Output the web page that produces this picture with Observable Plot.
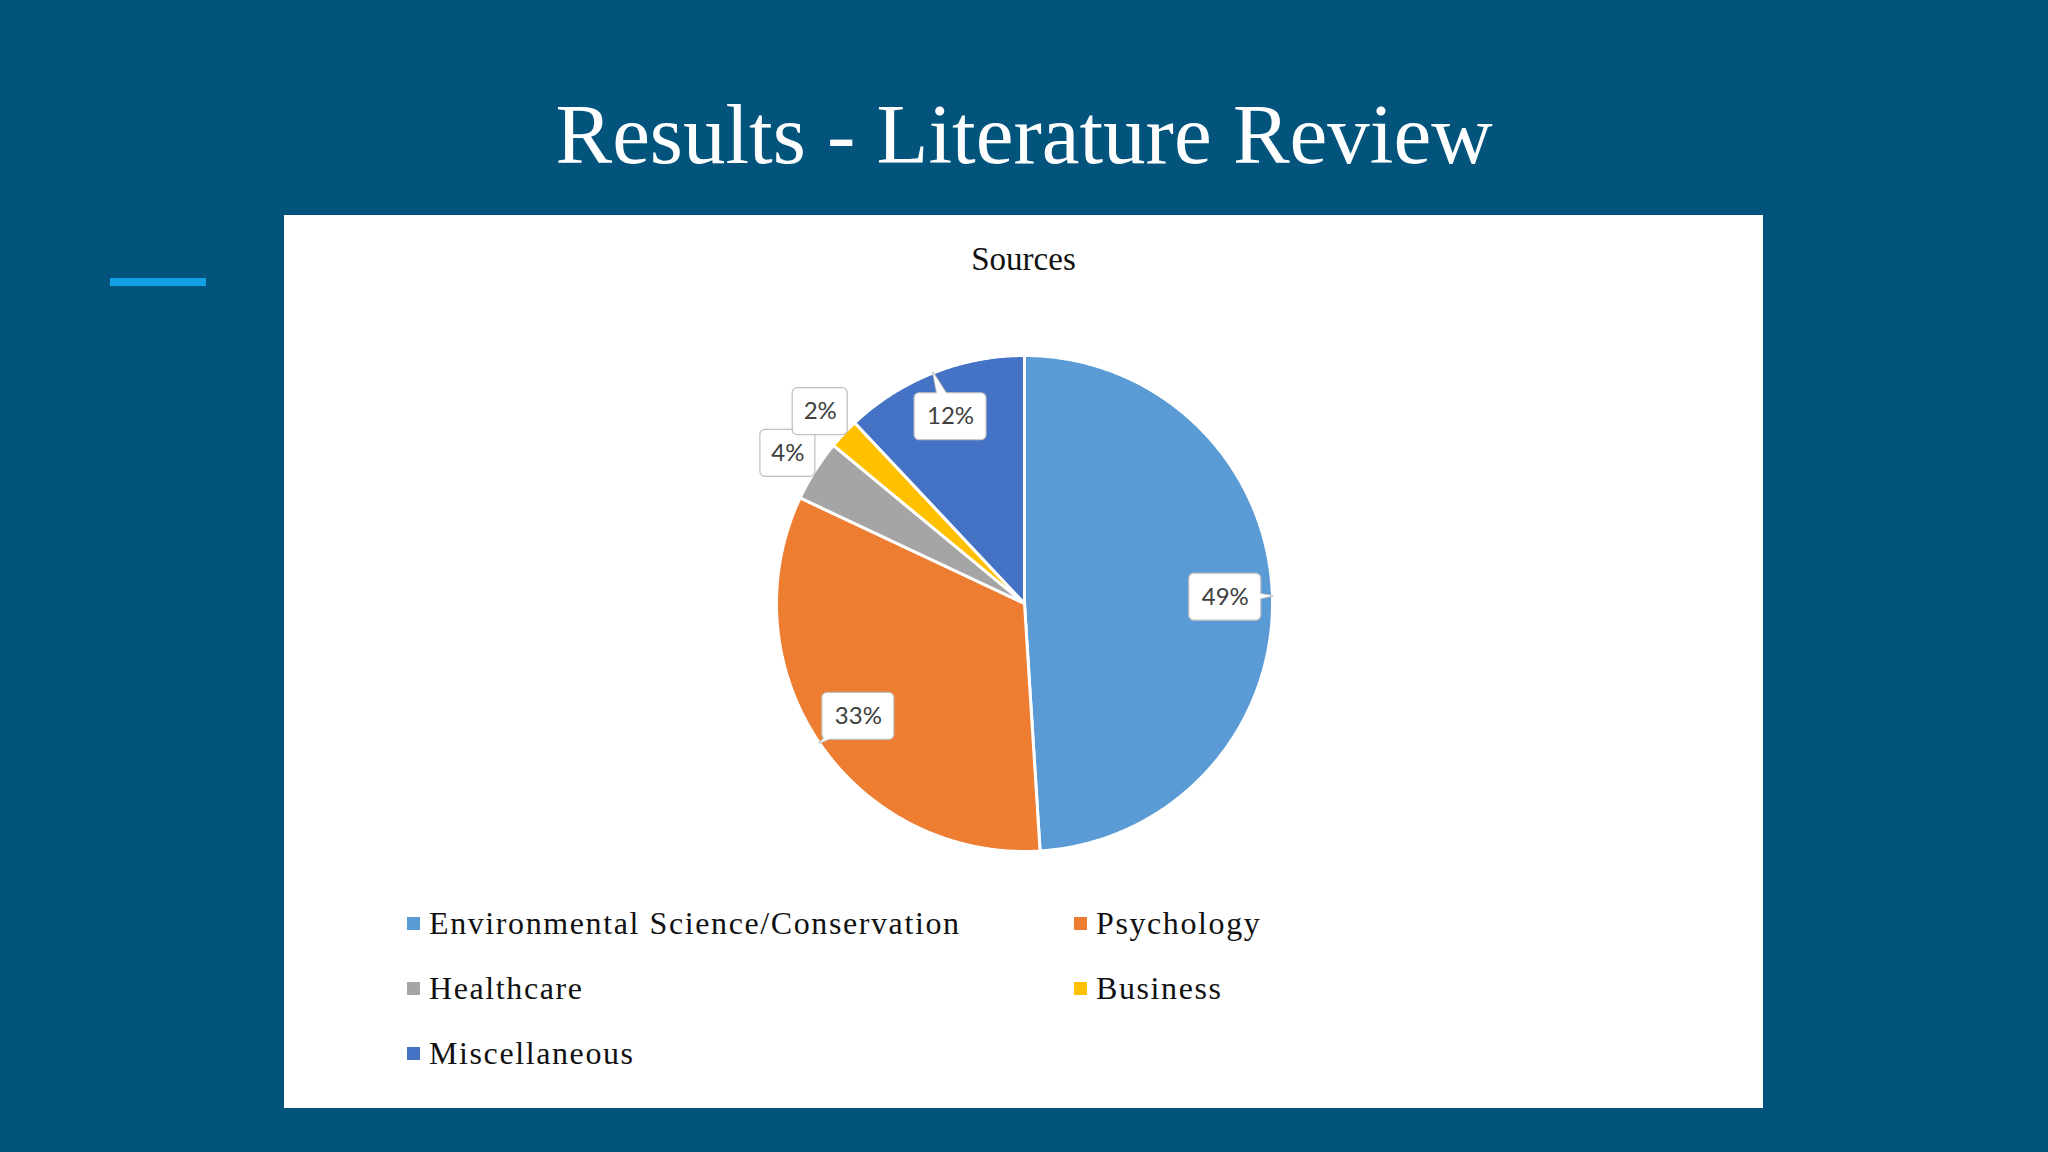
<!DOCTYPE html>
<html>
<head>
<meta charset="utf-8">
<script src="https://cdn.jsdelivr.net/npm/d3@7"></script>
<script src="https://cdn.jsdelivr.net/npm/@observablehq/plot@0.6"></script>
<style>
html,body{margin:0;padding:0;}
body{width:2048px;height:1152px;background:#02547d;position:relative;overflow:hidden;font-family:"Liberation Serif","Times New Roman",serif;}
#title{position:absolute;left:0;top:84px;width:2048px;text-align:center;color:#fff;font-size:85px;line-height:100px;white-space:nowrap;}
#accent{position:absolute;left:110px;top:278px;width:96px;height:8px;background:#12a0e6;}
#panel{position:absolute;left:284px;top:215px;width:1479px;height:893px;background:#fff;}
#ctitle{position:absolute;left:0;top:24px;width:100%;text-align:center;font-size:33px;line-height:40px;color:#111;}
#chart{position:absolute;left:0;top:75px;}
.item{position:absolute;height:40px;display:flex;align-items:center;white-space:nowrap;}
.swatch{width:13px;height:13px;margin-right:9px;flex:none;}
.lbl{font-size:32px;line-height:40px;letter-spacing:1.6px;color:#111;}
</style>
</head>
<body>
<div id="title">Results - Literature Review</div>
<div id="accent"></div>
<div id="panel">
  <div id="ctitle">Sources</div>
  <div id="chart"></div>
  <div id="legend"></div>
</div>
<script>
// ---- data ----
const categories = ["Environmental Science/Conservation", "Psychology", "Healthcare", "Business", "Miscellaneous"];
const values = [49, 33, 4, 2, 12];
const labels = ["49%", "33%", "4%", "2%", "12%"];
const colors = ["#5B9BD5", "#ED7D31", "#A5A5A5", "#FFC000", "#4472C4"];

// ---- derived geometry (data space, radius = 1) ----
const R = 248, CX = 740, CY = 313;
const rows = categories.map((c, i) => ({cat: c, value: values[i], label: labels[i]}));
const arcs = d3.pie().sort(null).value(d => d.value)(rows);

const slicePts = [];
arcs.forEach(a => {
  const n = Math.max(2, Math.ceil((a.endAngle - a.startAngle) / (Math.PI / 360)));
  slicePts.push({cat: a.data.cat, x: 0, y: 0});
  for (let k = 0; k <= n; k++) {
    const t = a.startAngle + (a.endAngle - a.startAngle) * k / n;
    slicePts.push({cat: a.data.cat, x: Math.sin(t), y: Math.cos(t)});
  }
  slicePts.push({cat: a.data.cat, x: 0, y: 0});
});

const labelRows = arcs.map(a => {
  const mid = (a.startAngle + a.endAngle) / 2;
  const outside = a.data.value < 5;
  const rf = outside ? 1.13 : 0.81;
  const w = (21 + 17 * a.data.label.length) / R;
  const h = 47 / R;
  const lx = rf * Math.sin(mid), ly = rf * Math.cos(mid);
  return {cat: a.data.cat, label: a.data.label, mid, outside, lx, ly,
          x1: lx - w / 2, x2: lx + w / 2, y1: ly - h / 2, y2: ly + h / 2};
});

const tailPts = [];
labelRows.filter(d => !d.outside).forEach(d => {
  const px = Math.cos(d.mid), py = -Math.sin(d.mid); // perpendicular
  const b = 9 / R;
  tailPts.push({cat: d.cat, x: d.lx + px * b, y: d.ly + py * b});
  tailPts.push({cat: d.cat, x: Math.sin(d.mid), y: Math.cos(d.mid)});
  tailPts.push({cat: d.cat, x: d.lx - px * b, y: d.ly - py * b});
});

const chart = Plot.plot({
  width: 1479,
  height: 610,
  margin: 0,
  style: {background: "transparent", overflow: "visible"},
  x: {domain: [-1, 1], range: [CX - R, CX + R], axis: null},
  y: {domain: [-1, 1], range: [CY + R, CY - R], axis: null},
  color: {domain: categories, range: colors},
  marks: [
    Plot.line(slicePts, {x: "x", y: "y", z: "cat", fill: "cat", stroke: "#ffffff", strokeWidth: 3, strokeLinejoin: "round", curve: "linear"}),
    Plot.line(tailPts, {x: "x", y: "y", z: "cat", fill: "#ffffff", stroke: "#bfbfbf", strokeWidth: 2, strokeLinejoin: "round"}),
    Plot.rect(labelRows, {x1: "x1", x2: "x2", y1: "y1", y2: "y2", fill: "#ffffff", stroke: "#bfbfbf", strokeWidth: 1.2, rx: 5}),
    Plot.line(tailPts, {x: "x", y: "y", z: "cat", fill: "#ffffff", stroke: "none"}),
    Plot.text(labelRows, {x: "lx", y: "ly", text: "label", fill: "#404040", fontSize: 24, fontFamily: "Lato, 'Open Sans', sans-serif", textAnchor: "middle", lineAnchor: "middle"})
  ]
});
document.getElementById("chart").appendChild(chart);

// ---- legend ----
const colX = [123, 790];
const rowTop = [688, 753, 818];
const legend = d3.select("#legend");
categories.forEach((c, i) => {
  const it = legend.append("div").attr("class", "item")
    .style("left", colX[i % 2] + "px")
    .style("top", rowTop[Math.floor(i / 2)] + "px");
  it.append("div").attr("class", "swatch").style("background", colors[i]);
  it.append("span").attr("class", "lbl").text(c);
});
</script>
</body>
</html>
